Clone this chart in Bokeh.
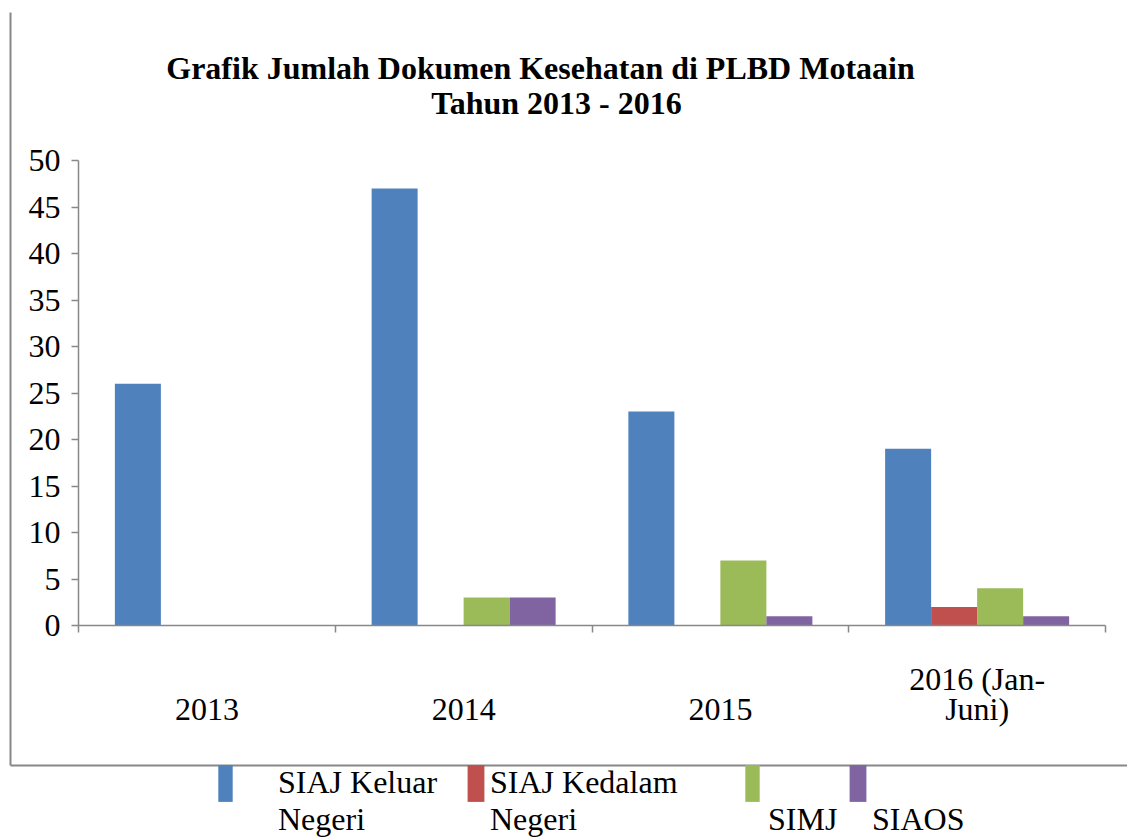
import numpy as np
from bokeh.plotting import figure
from bokeh.models import (ColumnDataSource, Range1d, FixedTicker, Label, Legend,
                          LegendItem, LinearAxis)
from bokeh.embed import file_html
from bokeh.resources import INLINE

# ---- data ----
years = ["\n2013", "\n2014", "\n2015", "2016 (Jan-\nJuni)"]
series_labels = ["\nSIAJ Keluar\nNegeri", "\nSIAJ Kedalam\nNegeri", "\n\nSIMJ", "\n\nSIAOS"]
siaj_keluar = [26, 47, 23, 19]
siaj_kedalam = [0, 0, 0, 2]
simj = [0, 3, 7, 4]
siaos = [0, 3, 1, 1]
y_ticks = [0, 5, 10, 15, 20, 25, 30, 35, 40, 45, 50]
title_line1 = "Grafik Jumlah Dokumen Kesehatan di PLBD Motaain"
title_line2 = "Tahun 2013 - 2016"

colors = ["#4F81BD", "#C0504D", "#9BBB59", "#8064A2"]
FONT = "Liberation Serif"
GREY = "#888888"

# ---- layout geometry (pixels) ----
W, H = 1127, 838
n = len(years)
YMAX = y_ticks[-1]
PX_L, PX_R = 78, 1105      # plot area left / right
PY_0, PY_TOP = 625, 160    # pixel of y=0 and y=YMAX
BOX_L, BOX_T, BOX_B = 10, 12, 765  # outer chart-area border

sx = (PX_R - PX_L) / n
sy = (PY_0 - PY_TOP) / YMAX
x_start, x_end = -PX_L / sx, n + (W - PX_R) / sx
y_start, y_end = -(H - PY_0) / sy, YMAX + PY_TOP / sy

p = figure(width=W, height=H, output_backend="svg", toolbar_location=None,
           x_range=Range1d(x_start, x_end), y_range=Range1d(y_start, y_end),
           min_border=0)
p.title.visible = False
p.outline_line_color = None
p.grid.visible = False
p.background_fill_color = "white"
p.border_fill_color = "white"

# ---- bars ----
bar_w = 46 / sx
centers = np.arange(n) + 0.5
renderers = []
for k, (vals, col) in enumerate(zip([siaj_keluar, siaj_kedalam, simj, siaos], colors)):
    off = (k - 1.5) * bar_w
    src = ColumnDataSource(dict(x=centers + off, top=vals))
    r = p.vbar(x="x", top="top", bottom=0, width=bar_w, source=src,
               fill_color=col, line_color=None)
    renderers.append(r)

# ---- data axes ----
xa = p.xaxis[0]
xa.fixed_location = 0
xa.bounds = (0, n)
xa.ticker = FixedTicker(ticks=list(centers), minor_ticks=list(range(n + 1)))
xa.major_label_overrides = {float(c): t for c, t in zip(centers, years)}
xa.major_tick_out = 0
xa.major_tick_in = 0
xa.minor_tick_out = 7
xa.minor_tick_in = 0
xa.minor_tick_line_color = GREY
xa.minor_tick_line_width = 1.5
xa.axis_line_color = GREY
xa.axis_line_width = 1.5
xa.major_label_standoff = 28
xa.major_label_text_font = FONT
xa.major_label_text_font_size = "32px"
xa.major_label_text_color = "black"
xa.major_label_text_line_height = 0.85

ya = p.yaxis[0]
ya.fixed_location = 0
ya.bounds = (0, YMAX)
ya.ticker = FixedTicker(ticks=y_ticks)
ya.major_tick_out = 7
ya.major_tick_in = 0
ya.minor_tick_line_color = None
ya.major_tick_line_color = GREY
ya.major_tick_line_width = 1.5
ya.axis_line_color = GREY
ya.axis_line_width = 1.5
ya.major_label_standoff = 11
ya.major_label_text_font = FONT
ya.major_label_text_font_size = "32px"
ya.major_label_text_color = "black"

# ---- outer border of the chart area (left and bottom lines) ----
bx = x_start + BOX_L / sx
by_top = y_end - BOX_T / sy
by_bot = y_start + (H - BOX_B) / sy
for side, loc, bnds in [("left", bx, (by_bot, by_top)), ("below", by_bot, (bx, x_end))]:
    ax = LinearAxis(fixed_location=loc, bounds=bnds, ticker=FixedTicker(ticks=[]),
                    axis_line_color=GREY, axis_line_width=2,
                    major_tick_line_color=None, minor_tick_line_color=None,
                    major_label_text_font_size="0px")
    p.add_layout(ax, side)

# ---- title ----
for txt, x, yb in [(title_line1, 540, 67), (title_line2, 556, 102)]:
    p.add_layout(Label(x=x, y=H - yb, x_units="screen", y_units="screen", text=txt,
                       text_align="center", text_baseline="alphabetic",
                       text_font=FONT, text_font_style="bold",
                       text_font_size="32px", text_color="black"))

# ---- legend (one Legend per item to mimic the irregular spacing) ----
# (x of glyph box, glyph width, label standoff, label alignment)
leg_specs = [(216, 18, 44, "right"), (465, 21, 4, "left"),
             (743, 18, 7, "left"), (847, 21, 4, "left")]
for r, lab, (vx, gw, so, al) in zip(renderers, series_labels, leg_specs):
    leg = Legend(items=[LegendItem(label=lab, renderers=[r])],
                 location=(vx, 0), orientation="horizontal",
                 glyph_width=gw, glyph_height=46, label_standoff=so,
                 padding=0, margin=0, spacing=0,
                 border_line_color=None, background_fill_alpha=0,
                 label_text_font=FONT, label_text_font_size="32px",
                 label_text_color="black", label_text_align=al)
    p.add_layout(leg, "center")

open("out.html", "w").write(file_html(p, INLINE))
